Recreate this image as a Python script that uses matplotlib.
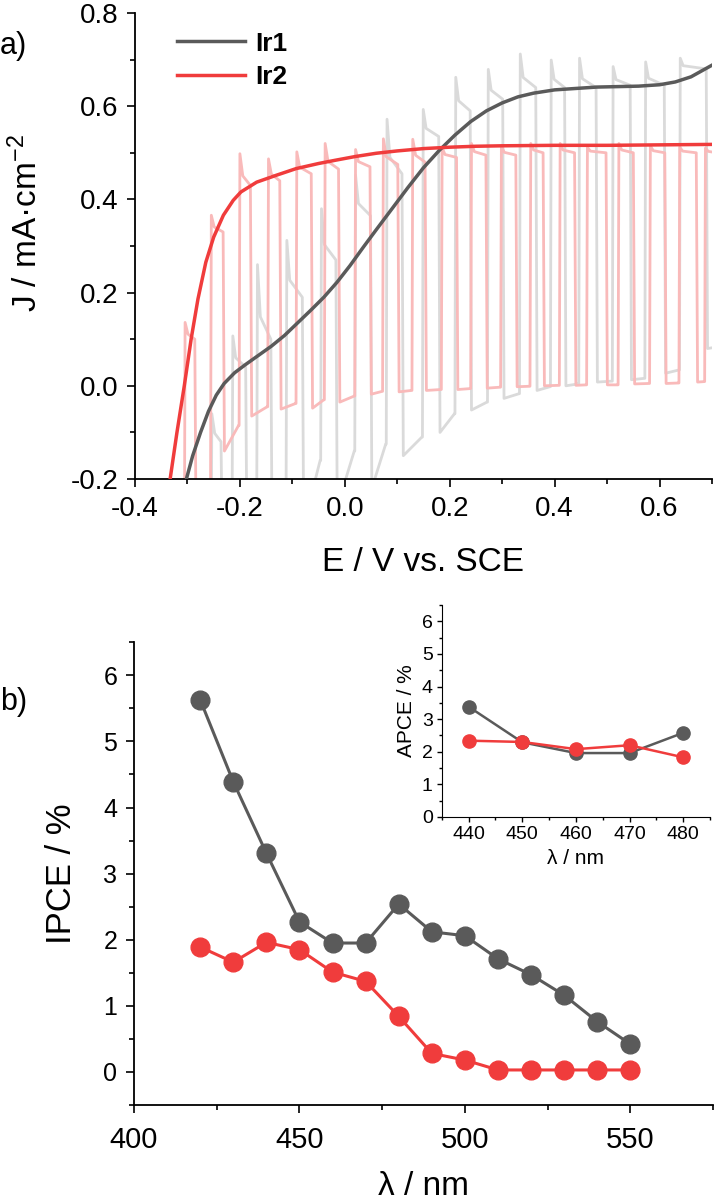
import matplotlib
matplotlib.use('Agg')
import matplotlib.pyplot as plt
from matplotlib.ticker import MultipleLocator, FormatStrFormatter

plt.rcParams['font.family'] = ['Liberation Sans', 'DejaVu Sans']
plt.rcParams['mathtext.fontset'] = 'custom'
plt.rcParams['mathtext.rm'] = 'Liberation Sans'
plt.rcParams['mathtext.it'] = 'Liberation Sans:italic'
plt.rcParams['axes.unicode_minus'] = False

# ---------------- data: panel a (J-V) ----------------
ir1_E = [-0.302, -0.29, -0.275, -0.26, -0.245, -0.23, -0.21, -0.19, -0.165, -0.14, -0.115,
         -0.09, -0.065, -0.04, -0.015, 0.01, 0.035, 0.06, 0.09, 0.12, 0.15, 0.18, 0.21,
         0.24, 0.27, 0.30, 0.33, 0.36, 0.40, 0.44, 0.48, 0.52, 0.56, 0.60, 0.63, 0.66, 0.70]
ir1_J = [-0.2, -0.15, -0.1, -0.055, -0.02, 0.005, 0.028, 0.045, 0.065, 0.085, 0.108,
         0.135, 0.162, 0.19, 0.222, 0.258, 0.297, 0.335, 0.38, 0.425, 0.468, 0.505, 0.538,
         0.567, 0.59, 0.607, 0.62, 0.628, 0.635, 0.638, 0.641, 0.642, 0.643, 0.646, 0.652, 0.663, 0.688]

ir2_E = [-0.333, -0.32, -0.306, -0.293, -0.28, -0.265, -0.25, -0.2315, -0.2127, -0.198,
         -0.168, -0.13, -0.093, -0.05, -0.018, 0.02, 0.06, 0.1, 0.15, 0.2, 0.25,
         0.3, 0.4, 0.5, 0.6, 0.7]
ir2_J = [-0.2, -0.1, 0.0, 0.1, 0.186, 0.265, 0.319, 0.366, 0.398, 0.416,
         0.437, 0.452, 0.466, 0.477, 0.484, 0.492, 0.499, 0.504, 0.509, 0.512, 0.514,
         0.515, 0.516, 0.516, 0.517, 0.518]

# chopped-light traces, per light cycle
ir1c_on = [-0.255, -0.215, -0.168, -0.112, -0.046, 0.019, 0.079, 0.148, 0.210, 0.272, 0.333,
           0.392, 0.446, 0.510, 0.572, 0.638]
ir1c_off = [-0.235, -0.188, -0.140, -0.080, -0.016, 0.050, 0.110, 0.180, 0.240, 0.302, 0.365,
            0.420, 0.480, 0.545, 0.610, 0.690]
ir1c_peak = [-0.06, 0.107, 0.26, 0.312, 0.38, 0.452, 0.572, 0.593, 0.662, 0.679, 0.712,
             0.699, 0.703, 0.685, 0.695, 0.703]
ir1c_plat = [-0.12, 0.04, 0.10, 0.19, 0.27, 0.365, 0.455, 0.535, 0.59, 0.615, 0.64,
             0.64, 0.64, 0.645, 0.645, 0.68]
ir1c_dmin = [-0.35, -0.35, -0.35, -0.30, -0.26, -0.22, -0.15, -0.10, -0.052, -0.027, -0.01,
             0.0, 0.008, 0.013, 0.027, 0.08]
ir1c_dend = [-0.30, -0.28, -0.25, -0.16, -0.14, -0.125, -0.11, -0.06, -0.035, -0.017, -0.002,
             0.004, 0.01, 0.016, 0.034, 0.085]

ir2c_on = [-0.306, -0.256, -0.2015, -0.147, -0.093, -0.039, 0.019, 0.072, 0.128, 0.184, 0.240,
           0.297, 0.353, 0.409, 0.461, 0.521, 0.581, 0.637, 0.686]
ir2c_off = [-0.285, -0.231, -0.179, -0.123, -0.063, -0.011, 0.049, 0.102, 0.154, 0.214, 0.27,
            0.327, 0.379, 0.439, 0.499, 0.551, 0.611, 0.671, 0.71]
ir2c_peak = [0.136, 0.366, 0.498, 0.487, 0.502, 0.52, 0.507, 0.53, 0.529, 0.511, 0.52, 0.515,
             0.52, 0.52, 0.512, 0.52, 0.515, 0.512, 0.51]
ir2c_plat = [0.10, 0.33, 0.43, 0.44, 0.455, 0.465, 0.47, 0.475, 0.48, 0.49, 0.495, 0.495,
             0.50, 0.50, 0.50, 0.50, 0.50, 0.50, 0.50]
ir2c_dmin = [-0.32, -0.14, -0.065, -0.05, -0.048, -0.035, -0.018, -0.013, -0.01, -0.008, -0.005,
             -0.002, 0.0, 0.001, 0.002, 0.004, 0.005, 0.008, 0.009]
ir2c_dend = [-0.22, -0.085, -0.045, -0.038, -0.03, -0.022, -0.012, -0.01, -0.008, -0.006, -0.003,
             -0.001, 0.001, 0.002, 0.002, 0.005, 0.006, 0.009, 0.009]

# ---------------- data: panel b (IPCE) ----------------
wavelength = [420, 430, 440, 450, 460, 470, 480, 490, 500, 510, 520, 530, 540, 550]
ipce_ir1 = [5.63, 4.39, 3.31, 2.27, 1.95, 1.95, 2.54, 2.12, 2.06, 1.71, 1.47, 1.16, 0.76, 0.42]
ipce_ir2 = [1.89, 1.66, 1.96, 1.85, 1.51, 1.37, 0.84, 0.28, 0.18, 0.03, 0.03, 0.03, 0.03, 0.03]

inset_wl = [440, 450, 460, 470, 480]
apce_ir1 = [3.38, 2.29, 1.96, 1.96, 2.58]
apce_ir2 = [2.34, 2.30, 2.08, 2.20, 1.83]

labels = ['Ir1', 'Ir2']
c_dark = '#5a5a5a'
c_red = '#f03c3c'
c_lgray = '#dadada'
c_pink = '#f9baba'


def chop_trace(on, off, peak, plat, dmin, dend, start_j, xmax):
    E, J = [on[0] - 0.02], [start_j]
    prev = start_j
    for i in range(len(on)):
        E += [on[i], on[i] + 0.0015, on[i] + 0.007, off[i] - 0.001, off[i] + 0.0015]
        J += [prev, peak[i], plat[i] + 0.3 * (peak[i] - plat[i]), plat[i], dmin[i]]
        nxt = on[i + 1] if i + 1 < len(on) else xmax
        E.append(nxt - 0.001)
        J.append(dend[i])
        prev = dend[i]
    return E, J


fig = plt.figure(figsize=(7.15, 12.02), dpi=100)

# ---------------- panel a ----------------
ax1 = fig.add_axes([0.1888, 0.6015, 0.807, 0.3877])
e1, j1 = chop_trace(ir1c_on, ir1c_off, ir1c_peak, ir1c_plat, ir1c_dmin, ir1c_dend, -0.4, 0.72)
e2, j2 = chop_trace(ir2c_on, ir2c_off, ir2c_peak, ir2c_plat, ir2c_dmin, ir2c_dend, -0.4, 0.72)
ax1.plot(e1, j1, color=c_lgray, lw=2.0, zorder=1)
ax1.plot(e2, j2, color=c_pink, lw=2.0, zorder=2)
ax1.plot(ir1_E, ir1_J, color=c_dark, lw=2.5, label=labels[0], zorder=3)
ax1.plot(ir2_E, ir2_J, color=c_red, lw=2.5, label=labels[1], zorder=3)
ax1.set_xlim(-0.4, 0.7)
ax1.set_ylim(-0.2, 0.8)
ax1.xaxis.set_major_locator(MultipleLocator(0.2))
ax1.xaxis.set_minor_locator(MultipleLocator(0.1))
ax1.yaxis.set_major_locator(MultipleLocator(0.2))
ax1.yaxis.set_minor_locator(MultipleLocator(0.1))
ax1.xaxis.set_major_formatter(FormatStrFormatter('%.1f'))
ax1.yaxis.set_major_formatter(FormatStrFormatter('%.1f'))
for s in ['top', 'right']:
    ax1.spines[s].set_visible(False)
for s in ['left', 'bottom']:
    ax1.spines[s].set_linewidth(1.3)
ax1.tick_params(which='major', direction='out', length=6, width=1.2, labelsize=20, pad=6)
ax1.tick_params(which='minor', direction='out', length=3.5, width=1.2)
ax1.set_xlabel('E / V vs. SCE', fontsize=24)
ax1.xaxis.set_label_coords(0.5, -0.145)
ax1.set_ylabel('J / mA·cm$^{-2}$', fontsize=24)
ax1.yaxis.set_label_coords(-0.157, 0.55)
leg = ax1.legend(loc='upper left', bbox_to_anchor=(0.072, 0.96), frameon=False,
                 prop={'weight': 'bold', 'size': 19}, handlelength=2.6,
                 handletextpad=0.4, labelspacing=0.35, borderpad=0, borderaxespad=0)
fig.text(0.0, 0.962, 'a)', fontsize=22, ha='left', va='center')

# ---------------- panel b ----------------
ax2 = fig.add_axes([0.1874, 0.0807, 0.81, 0.385])
ax2.plot(wavelength, ipce_ir1, '-o', color=c_dark, lw=2.2, ms=13.5, label=labels[0], zorder=3)
ax2.plot(wavelength, ipce_ir2, '-o', color=c_red, lw=2.2, ms=13.5, label=labels[1], zorder=4)
ax2.set_xlim(400, 575)
ax2.set_ylim(-0.5, 6.5)
ax2.xaxis.set_major_locator(MultipleLocator(50))
ax2.xaxis.set_minor_locator(MultipleLocator(25))
ax2.yaxis.set_major_locator(MultipleLocator(1))
ax2.yaxis.set_minor_locator(MultipleLocator(0.5))
for s in ['top', 'right']:
    ax2.spines[s].set_visible(False)
for s in ['left', 'bottom']:
    ax2.spines[s].set_linewidth(1.3)
ax2.tick_params(which='major', direction='out', length=6, width=1.2, pad=6)
ax2.tick_params(axis='x', which='major', labelsize=21, pad=9)
ax2.tick_params(axis='y', which='major', labelsize=18)
ax2.tick_params(which='minor', direction='out', length=3.5, width=1.2)
ax2.set_xlabel('λ / nm', fontsize=24)
ax2.xaxis.set_label_coords(0.5, -0.143)
ax2.set_ylabel('IPCE / %', fontsize=25)
ax2.yaxis.set_label_coords(-0.097, 0.5)
fig.text(0.0, 0.416, 'b)', fontsize=22, ha='left', va='center')

# ---------------- inset ----------------
ax3 = fig.add_axes([0.618, 0.3203, 0.375, 0.1764])
ax3.plot(inset_wl, apce_ir1, '-o', color=c_dark, lw=1.8, ms=9.5, zorder=3)
ax3.plot(inset_wl, apce_ir2, '-o', color=c_red, lw=1.8, ms=9.5, zorder=4)
ax3.set_xlim(435, 485)
ax3.set_ylim(0, 6.5)
ax3.xaxis.set_major_locator(MultipleLocator(10))
ax3.xaxis.set_minor_locator(MultipleLocator(5))
ax3.yaxis.set_major_locator(MultipleLocator(1))
ax3.yaxis.set_minor_locator(MultipleLocator(0.5))
for s in ['top', 'right']:
    ax3.spines[s].set_visible(False)
ax3.tick_params(which='major', direction='out', length=3.5, width=1.0, labelsize=14, pad=3)
ax3.tick_params(which='minor', direction='out', length=2, width=1.0)
ax3.set_xlabel('λ / nm', fontsize=15)
ax3.set_ylabel('APCE / %', fontsize=15, labelpad=4)

fig.savefig('out.png', dpi=100)
